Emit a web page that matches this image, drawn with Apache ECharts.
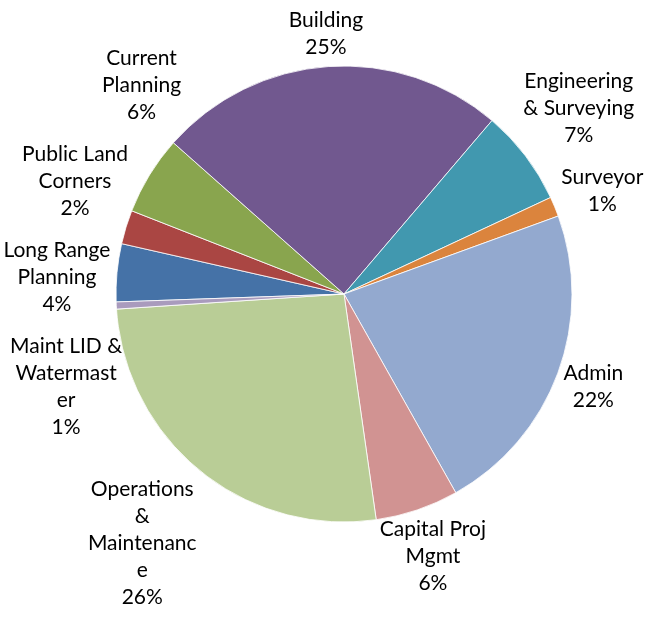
<!DOCTYPE html>
<html><head><meta charset="utf-8">
<script src="https://cdn.jsdelivr.net/npm/echarts@6/dist/echarts.min.js"></script>
<style>html,body{margin:0;padding:0;background:#fff}#c{width:648px;height:635px}</style>
</head><body><div id="c"></div>
<script>
const categories = ['Long Range Planning','Public Land Corners','Current Planning','Building','Engineering & Surveying','Surveyor','Admin','Capital Proj Mgmt','Operations & Maintenance','Maint LID & Watermaster'];
const labelText = ['Long Range\nPlanning','Public Land\nCorners','Current\nPlanning','Building','Engineering\n& Surveying','Surveyor','Admin','Capital Proj\nMgmt','Operations\n&\nMaintenanc\ne','Maint LID &\nWatermast\ner'];
const values = [4.1, 2.4, 5.6, 24.7, 6.8, 1.4, 22.4, 5.9, 26.2, 0.5];
const colors = ['#4572A7','#AA4643','#89A54E','#71588F','#4198AF','#DB843D','#93A9CF','#D19392','#B9CD96','#A99BBD'];

const W = 648, H = 635;
const C = [344, 294], R0 = 228, START = 182;
const GAP = 6, PAD = 15, FONT = 21, LH = 27, FAMILY = 'Lato';

function pctText(i, pct) { return labelText[i] + '\n' + Math.round(pct) + '%'; }
function ext(ux, uy, hw, hh) {
  const ex = Math.abs(ux) > 1e-6 ? hw / Math.abs(ux) : Infinity;
  const ey = Math.abs(uy) > 1e-6 ? hh / Math.abs(uy) : Infinity;
  return Math.min(ex, ey);
}
function posFor(uy, o) {
  const ux = o.side * Math.sqrt(Math.max(0, 1 - uy * uy));
  const t = R0 + GAP + ext(ux, uy, o.hw, o.hh);
  return [C[0] + ux * t, C[1] + uy * t];
}
function xForY(o) {
  let lo = -0.99999, hi = 0.99999;
  for (let k = 0; k < 60; k++) {
    const m = (lo + hi) / 2;
    if (posFor(m, o)[1] < o.y) lo = m; else hi = m;
  }
  return posFor((lo + hi) / 2, o)[0];
}

// label placement: outside the circle along each slice's middle angle, then de-overlapped
const ctx = document.createElement('canvas').getContext('2d');
ctx.font = FONT + 'px ' + FAMILY;
const total = values.reduce((a, b) => a + b, 0);
let cum = 0;
const places = values.map((v, i) => {
  const mid = (START - (cum + v / 2) / total * 360) * Math.PI / 180;
  cum += v;
  const lines = pctText(i, v / total * 100).split('\n');
  const w = Math.max.apply(null, lines.map(l => ctx.measureText(l).width));
  const hw = w / 2, hh = lines.length * LH / 2;
  const ux = Math.cos(mid), uy = -Math.sin(mid);
  const t = R0 + GAP + ext(ux, uy, hw, hh);
  return {hw, hh, side: ux < 0 ? -1 : 1, x: C[0] + ux * t, y: C[1] + uy * t, y0: C[1] + uy * t};
});
for (let it = 0; it < 400; it++) {
  let moved = false;
  for (let i = 0; i < places.length; i++) {
    for (let j = i + 1; j < places.length; j++) {
      const a = places[i], b = places[j];
      if (Math.abs(a.x - b.x) < a.hw + b.hw + PAD && Math.abs(a.y - b.y) < a.hh + b.hh + PAD) {
        const ov = a.hh + b.hh + PAD - Math.abs(a.y - b.y);
        const s = a.y <= b.y ? 1 : -1;
        a.y -= s * ov * 0.25; b.y += s * ov * 0.25;
        moved = true;
      }
    }
  }
  places.forEach(o => {
    o.y = Math.min(H - o.hh, Math.max(o.hh, o.y));
    if (Math.abs(o.y - o.y0) > 0.5) o.x = xForY(o);
  });
  if (!moved) break;
}

const chart = echarts.init(document.getElementById('c'), null, {renderer: 'canvas'});
chart.setOption({
  animation: false,
  color: colors,
  series: [{
    type: 'pie',
    center: C,
    radius: R0,
    startAngle: START,
    clockwise: true,
    avoidLabelOverlap: false,
    itemStyle: {borderColor: '#fff', borderWidth: 0.8},
    label: {
      show: true, position: 'outside',
      formatter: p => pctText(p.dataIndex, p.percent),
      fontFamily: FAMILY, fontSize: FONT, lineHeight: LH, color: '#000', align: 'center'
    },
    labelLine: {show: false},
    labelLayout: function (p) {
      const o = places[p.dataIndex];
      return {x: o.x, y: o.y, align: 'center', verticalAlign: 'middle'};
    },
    data: categories.map((n, i) => ({name: n, value: values[i]}))
  }]
});
</script></body></html>
